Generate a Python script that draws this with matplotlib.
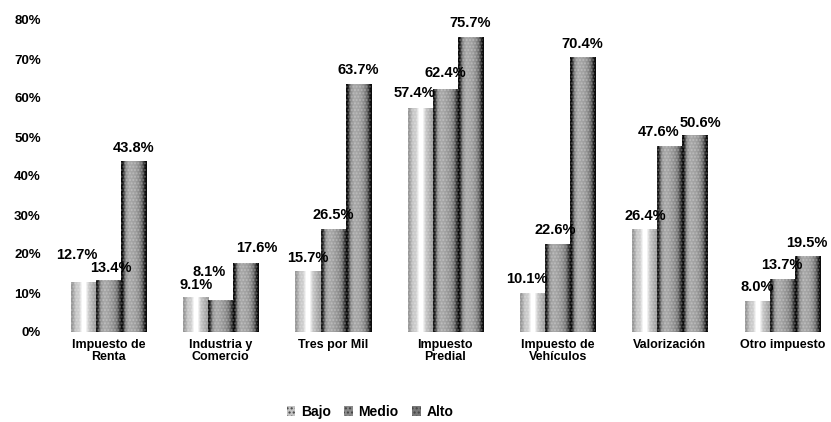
import numpy as np
import matplotlib.pyplot as plt

plt.rcParams['font.family'] = ['Liberation Sans', 'DejaVu Sans']
plt.rcParams['font.weight'] = 'bold'

categories = ['Impuesto de\nRenta', 'Industria y\nComercio', 'Tres por Mil',
              'Impuesto\nPredial', 'Impuesto de\nVehículos', 'Valorización',
              'Otro impuesto']
series = ['Bajo', 'Medio', 'Alto']
bajo = [12.7, 9.1, 15.7, 57.4, 10.1, 26.4, 8.0]
medio = [13.4, 8.1, 26.5, 62.4, 22.6, 47.6, 13.7]
alto = [43.8, 17.6, 63.7, 75.7, 70.4, 50.6, 19.5]
yticks = [0, 10, 20, 30, 40, 50, 60, 70, 80]

# horizontal shading across each bar (grey level, 0 = black)
profiles = {
    'Bajo': [0.6, 0.78, 0.8, 1.0, 1.0, 0.78, 0.7, 0.62],
    'Medio': [0.1, 0.58, 0.66, 0.64, 0.6, 0.55, 0.45, 0.15],
    'Alto': [0.05, 0.55, 0.66, 0.64, 0.62, 0.55, 0.4, 0.05],
}
legend_colors = {'Bajo': '#c4c4c4', 'Medio': '#8a8a8a', 'Alto': '#787878'}

# label nudges (x in category units, y in percent above the bar, to the baseline)
label_dx = {'Bajo': [-0.06, 0, 0, -0.05, -0.05, 0, 0],
            'Medio': [0.02, -0.1, 0, 0, -0.02, -0.1, 0],
            'Alto': [0, 0.1, 0, 0, 0, 0.05, 0.0]}
label_dy = {'Bajo': [6.0, 2.0, 2.3, 2.8, 2.4, 2.4, 2.4],
            'Medio': [2.0, 6.2, 2.4, 3.0, 2.4, 2.7, 2.4],
            'Alto': [2.4, 2.9, 2.4, 2.4, 2.4, 2.0, 2.4]}

fig = plt.figure(figsize=(8.31, 4.22), dpi=100)
ax = fig.add_axes([45 / 831, 1 - 332 / 422, 786 / 831, 312 / 422])

x = np.arange(len(categories))
w = 0.223
offsets = [-w, 0, w]
handles = []
for name, vals, off in zip(series, [bajo, medio, alto], offsets):
    bars = ax.bar(x + off, vals, width=w, color='none', edgecolor='none')
    grad = np.tile(np.array(profiles[name]), (2, 1))
    for b in bars:
        x0, h = b.get_x(), b.get_height()
        im = ax.imshow(grad, cmap='gray', vmin=0, vmax=1, aspect='auto',
                       extent=(x0, x0 + b.get_width(), 0, h),
                       interpolation='bilinear', zorder=2)
        im.set_clip_path(b)
        ax.bar(x0 + b.get_width() / 2, h, width=b.get_width(), color='none',
               hatch='.....', edgecolor=(1, 1, 1, 0.25), linewidth=0, zorder=3)
    for i, (xi, v) in enumerate(zip(x + off, vals)):
        ax.text(xi + label_dx[name][i], v + label_dy[name][i], f'{v:.1f}%',
                ha='center', va='baseline', fontsize=10.5, fontweight='bold', zorder=4)
    handles.append(plt.Rectangle((0, 0), 1, 1, facecolor=legend_colors[name],
                                 hatch='....', edgecolor='#444444', linewidth=0))

ax.set_xlim(-0.565, 6.434)
ax.set_ylim(0, 80)
ax.set_yticks(yticks)
ax.set_yticklabels([f'{t}%' for t in yticks], fontsize=9.5, fontweight='bold')
ax.set_xticks(x)
ax.set_xticklabels(categories, fontsize=9, fontweight='bold', linespacing=1.05)
ax.tick_params(length=0)
ax.tick_params(axis='x', pad=5)
ax.tick_params(axis='y', pad=3)
for s in ax.spines.values():
    s.set_visible(False)

fig.legend(handles, series, loc='center', bbox_to_anchor=(370 / 831, 1 - 412 / 422),
           ncol=3, frameon=False, handlelength=0.6, handleheight=0.7,
           handletextpad=0.4, columnspacing=1.0, prop={'weight': 'bold', 'size': 10})

fig.savefig('out.png', dpi=100)
